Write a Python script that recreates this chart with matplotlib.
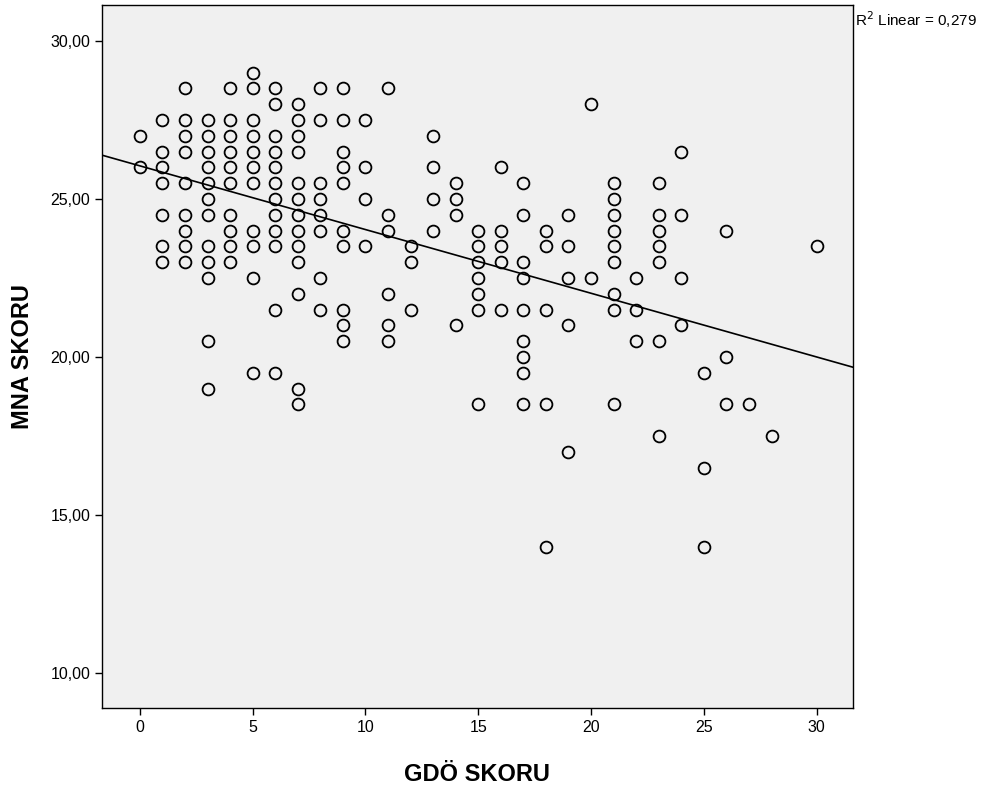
import matplotlib
matplotlib.use('Agg')
import matplotlib.pyplot as plt
import numpy as np

plt.rcParams['font.family'] = ['Liberation Sans', 'DejaVu Sans']

mna_by_gdo = {
    0: [27, 26],
    1: [27.5, 26.5, 26, 25.5, 24.5, 23.5, 23],
    2: [28.5, 27.5, 27, 26.5, 25.5, 24.5, 24, 23.5, 23],
    3: [27.5, 27, 26.5, 26, 25.5, 25, 24.5, 23.5, 23, 22.5, 20.5, 19],
    4: [28.5, 27.5, 27, 26.5, 26, 25.5, 24.5, 24, 23.5, 23],
    5: [29, 28.5, 27.5, 27, 26.5, 26, 25.5, 24, 23.5, 22.5, 19.5],
    6: [28.5, 28, 27, 26.5, 26, 25.5, 25, 24.5, 24, 23.5, 21.5, 19.5],
    7: [28, 27.5, 27, 26.5, 25.5, 25, 24.5, 24, 23.5, 23, 22, 19, 18.5],
    8: [28.5, 27.5, 25.5, 25, 24.5, 24, 22.5, 21.5],
    9: [28.5, 27.5, 26.5, 26, 25.5, 24, 23.5, 21.5, 21, 20.5],
    10: [27.5, 26, 25, 23.5],
    11: [28.5, 24.5, 24, 22, 21, 20.5],
    12: [23.5, 23, 21.5],
    13: [27, 26, 25, 24],
    14: [25.5, 25, 24.5, 21],
    15: [24, 23.5, 23, 22.5, 22, 21.5, 18.5],
    16: [26, 24, 23.5, 23, 21.5],
    17: [25.5, 24.5, 23, 22.5, 21.5, 20.5, 20, 19.5, 18.5],
    18: [24, 23.5, 21.5, 18.5, 14],
    19: [24.5, 23.5, 22.5, 21, 17],
    20: [28, 22.5],
    21: [25.5, 25, 24.5, 24, 23.5, 23, 22, 21.5, 18.5],
    22: [22.5, 21.5, 20.5],
    23: [25.5, 24.5, 24, 23.5, 23, 20.5, 17.5],
    24: [26.5, 24.5, 22.5, 21],
    25: [19.5, 16.5, 14],
    26: [24, 20, 18.5],
    27: [18.5],
    28: [17.5],
    30: [23.5],
}

# fit line as drawn in the chart
fit_intercept = 26.05
fit_slope = -0.2016
r2_text = 'R$^2$ Linear = 0,279'

gdo = []
mna = []
for k, vals in mna_by_gdo.items():
    for v in vals:
        gdo.append(k)
        mna.append(v)

fig = plt.figure(figsize=(9.95, 7.85), dpi=100)
ax = fig.add_axes([0.1025, 0.098, 0.7545, 0.8956])
ax.set_facecolor('#f0f0f0')

ax.plot(gdo, mna, linestyle='none', marker='o', ms=8.5, mfc='none',
        mec='black', mew=1.3)

xlim = (-1.68, 31.6)
ax.set_xlim(xlim)
ax.set_ylim(8.89, 31.14)
xs = np.array(xlim)
ax.plot(xs, fit_intercept + fit_slope * xs, color='black', lw=1.2)

ax.set_xticks(range(0, 31, 5))
ax.set_yticks([10, 15, 20, 25, 30])
ax.set_yticklabels(['10,00', '15,00', '20,00', '25,00', '30,00'])
ax.tick_params(direction='out', length=5, width=1, labelsize=11.5, colors='black')
for s in ax.spines.values():
    s.set_linewidth(1)
    s.set_color('black')

ax.set_xlabel('GDÖ SKORU', fontsize=17, fontweight='bold', labelpad=20)
ax.set_ylabel('MNA SKORU', fontsize=17, fontweight='bold', labelpad=12)

fig.text(0.859, 0.975, r2_text, fontsize=11, ha='left', va='center')

fig.savefig('out.png', dpi=100)
